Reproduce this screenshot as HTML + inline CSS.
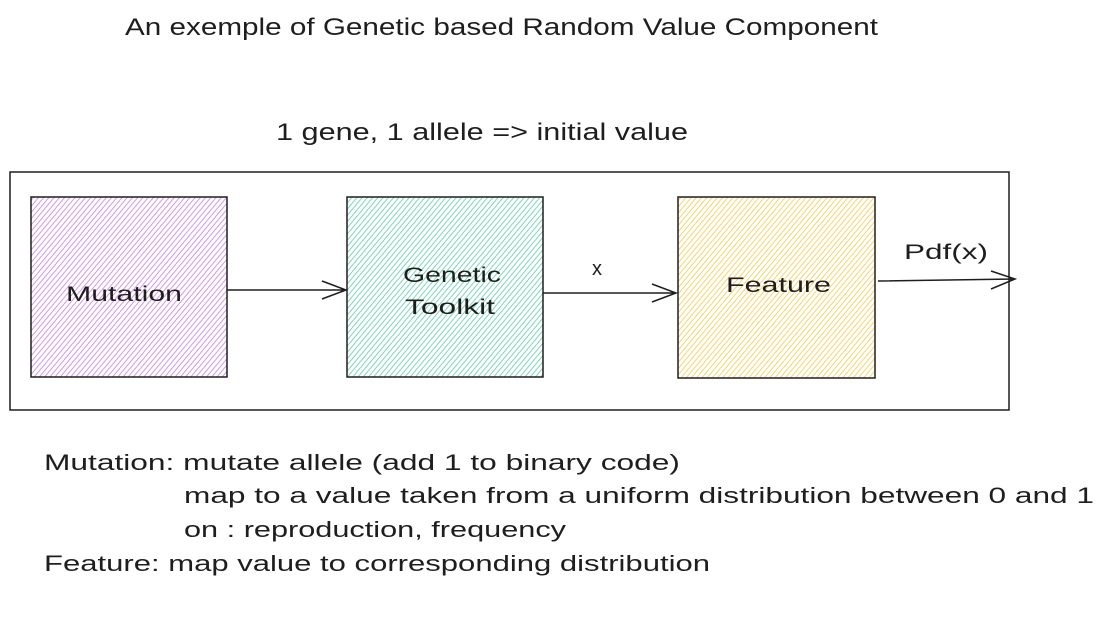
<!DOCTYPE html>
<html><head><meta charset="utf-8"><style>
html,body{margin:0;padding:0;background:#fff;}
svg{display:block}
text{font-family:"Liberation Sans",sans-serif;fill:#1e1e1e;}
</style></head><body>
<svg width="1115" height="628" viewBox="0 0 1115 628" xmlns="http://www.w3.org/2000/svg">
<defs>
<pattern id="hp" width="4" height="4" patternUnits="userSpaceOnUse" patternTransform="rotate(40)">
<rect width="4" height="4" fill="#fff"/><line x1="0" y1="0" x2="0" y2="4" stroke="#d08be6" stroke-width="1.8"/></pattern>
<pattern id="hg" width="4" height="4" patternUnits="userSpaceOnUse" patternTransform="rotate(40)">
<rect width="4" height="4" fill="#fff"/><line x1="0" y1="0" x2="0" y2="4" stroke="#6fd3b0" stroke-width="1.8"/></pattern>
<pattern id="hy" width="4" height="4" patternUnits="userSpaceOnUse" patternTransform="rotate(40)">
<rect width="4" height="4" fill="#fff"/><line x1="0" y1="0" x2="0" y2="4" stroke="#f8cf5e" stroke-width="1.8"/></pattern>
</defs>
<text x="125" y="35" font-size="24" textLength="753" lengthAdjust="spacingAndGlyphs">An exemple of Genetic based Random Value Component</text>
<text x="276" y="140" font-size="24" textLength="412" lengthAdjust="spacingAndGlyphs">1 gene, 1 allele =&gt; initial value</text>
<rect x="10" y="172" width="999" height="238" fill="none" stroke="#1e1e1e" stroke-width="1.5"/>
<rect x="31" y="197" width="196" height="180" fill="url(#hp)" stroke="#1e1e1e" stroke-width="1.5"/>
<rect x="347" y="197" width="196" height="180" fill="url(#hg)" stroke="#1e1e1e" stroke-width="1.5"/>
<rect x="678" y="197" width="197" height="181" fill="url(#hy)" stroke="#1e1e1e" stroke-width="1.5"/>
<text x="66" y="301" font-size="21" textLength="116" lengthAdjust="spacingAndGlyphs">Mutation</text>
<text x="403" y="282" font-size="21" textLength="98" lengthAdjust="spacingAndGlyphs">Genetic</text>
<text x="405" y="314" font-size="21" textLength="90" lengthAdjust="spacingAndGlyphs">Toolkit</text>
<text x="726" y="292" font-size="21" textLength="105" lengthAdjust="spacingAndGlyphs">Feature</text>
<g stroke="#1e1e1e" stroke-width="1.5" fill="none">
<path d="M227 290 L346 290 M322 281 L346 290 L322 299"/>
<path d="M543 293 L676 293 M652 284 L676 293 L652 302"/>
<path d="M878 281 L1015 279 M991 271 L1015 279 L991 289"/>
</g>
<text x="592" y="275" font-size="20">x</text>
<text x="904" y="259" font-size="21" textLength="84" lengthAdjust="spacingAndGlyphs">Pdf(x)</text>
<text x="44" y="470" font-size="22" textLength="636" lengthAdjust="spacingAndGlyphs">Mutation: mutate allele (add 1 to binary code)</text>
<text x="184" y="503" font-size="22" textLength="910" lengthAdjust="spacingAndGlyphs">map to a value taken from a uniform distribution between 0 and 1</text>
<text x="184" y="537" font-size="22" textLength="382" lengthAdjust="spacingAndGlyphs">on : reproduction, frequency</text>
<text x="44" y="571" font-size="22" textLength="666" lengthAdjust="spacingAndGlyphs">Feature: map value to corresponding distribution</text>
</svg>
</body></html>
